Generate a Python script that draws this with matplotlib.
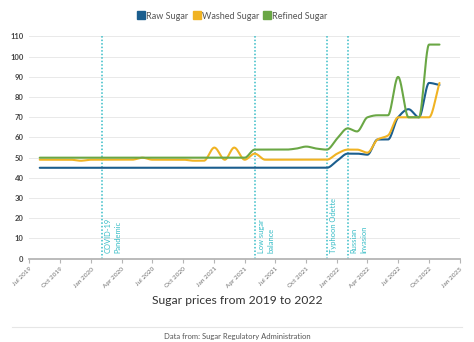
import numpy as np
import pandas as pd
import matplotlib
matplotlib.use("Agg")
import matplotlib.pyplot as plt
import matplotlib.dates as mdates
from matplotlib.lines import Line2D

plt.rcParams['font.family'] = ['Lato', 'DejaVu Sans']

# monthly prices, Aug 2019 .. Nov 2022
months = pd.date_range('2019-08-01', '2022-11-01', freq='MS')

raw_sugar = [45, 45, 45, 45, 45, 45, 45, 45, 45, 45,
             45, 45, 45, 45, 45, 45, 45, 45, 45, 45,
             45, 45, 45, 45, 45, 45, 45, 45, 45, 48.5,
             52, 52, 51.5, 59, 59, 70, 74, 70, 87, 86]
washed_sugar = [49, 49, 49, 49, 48.5, 49, 49, 49, 49, 49,
                50, 49, 49, 49, 49, 48.5, 48.5, 55, 49, 55,
                49, 52, 49, 49, 49, 49, 49, 49, 49, 52,
                54, 54, 52.5, 59, 61, 70, 70, 70, 70, 87]
refined_sugar = [50, 50, 50, 50, 50, 50, 50, 50, 50, 50,
                 50, 50, 50, 50, 50, 50, 50, 50, 50, 50,
                 50, 54, 54, 54, 54, 54.5, 55.5, 54.5, 54, 59.5,
                 64.5, 63, 70, 71, 71, 90, 70, 70, 106, 106]

series_names = ['Raw Sugar', 'Washed Sugar', 'Refined Sugar']
series_colors = ['#1b5e8e', '#f0b323', '#6aa745']

events = ['2020-02-01', '2021-05-01', '2021-12-01', '2022-02-01']
event_labels = ['COVID-19\nPandemic', 'Low sugar\nbalance', 'Typhoon Odette', 'Russian\nInvasion']

tick_dates = pd.date_range('2019-07-01', '2023-01-01', freq='3MS')


def monotone_curve(x, y, n=24):
    """Monotone cubic (Fritsch-Carlson) curve through the points."""
    x = np.asarray(x, float)
    y = np.asarray(y, float)
    h = np.diff(x)
    d = np.diff(y) / h
    m = np.zeros_like(y)
    m[0], m[-1] = d[0], d[-1]
    for k in range(1, len(y) - 1):
        if d[k - 1] * d[k] <= 0:
            m[k] = 0
        else:
            w1 = 2 * h[k] + h[k - 1]
            w2 = h[k] + 2 * h[k - 1]
            m[k] = (w1 + w2) / (w1 / d[k - 1] + w2 / d[k])
    xs, ys = [], []
    for k in range(len(h)):
        t = np.linspace(0, 1, n, endpoint=False)
        h00 = 2 * t**3 - 3 * t**2 + 1
        h10 = t**3 - 2 * t**2 + t
        h01 = -2 * t**3 + 3 * t**2
        h11 = t**3 - t**2
        xs.append(x[k] + t * h[k])
        ys.append(h00 * y[k] + h10 * h[k] * m[k] + h01 * y[k + 1] + h11 * h[k] * m[k + 1])
    xs.append([x[-1]])
    ys.append([y[-1]])
    return np.concatenate(xs), np.concatenate(ys)


fig = plt.figure(figsize=(4.74, 3.42), dpi=100)
ax = fig.add_axes([0.0618, 0.2436, 0.9087, 0.6497])

xnum = mdates.date2num(months)
for name, vals, col in zip(series_names, [raw_sugar, washed_sugar, refined_sugar], series_colors):
    cx, cy = monotone_curve(xnum, vals)
    ax.plot(cx, cy, color=col, lw=1.5, solid_capstyle='round', zorder=3)

teal = '#35bcc6'
for d, lab in zip(events, event_labels):
    xd = mdates.date2num(pd.Timestamp(d))
    ax.axvline(xd, color=teal, lw=1.1, ls=(0, (1, 1.3)), zorder=2)
    ax.annotate(lab, xy=(xd, 0), xytext=(2.3, 4), textcoords='offset points',
                rotation=90, ha='left', va='bottom', multialignment='left',
                fontsize=5.4, color=teal, linespacing=1.35)

ax.set_ylim(0, 110)
ax.set_yticks(range(0, 111, 10))
ax.set_xlim(mdates.date2num(pd.Timestamp('2019-07-01')), mdates.date2num(pd.Timestamp('2023-01-01')))
ax.set_xticks(mdates.date2num(tick_dates))
ax.set_xticklabels([t.strftime('%b %Y') for t in tick_dates], rotation=45,
                   ha='right', rotation_mode='anchor', fontsize=4.6, color='#707070')
ax.grid(axis='y', color='#e9e9e9', lw=0.7)
ax.set_axisbelow(True)
for s in ['left', 'right', 'top']:
    ax.spines[s].set_visible(False)
ax.spines['bottom'].set_color('#b5b5b5')
ax.spines['bottom'].set_linewidth(1.3)
ax.tick_params(axis='x', length=3, color='#b5b5b5', pad=2.5)
ax.tick_params(axis='y', length=0, pad=4, labelsize=5.5, labelcolor='#444444')
for lbl in ax.get_yticklabels():
    lbl.set_fontweight('bold')

handles = [Line2D([], [], marker='s', ls='', markersize=6, color=c) for c in series_colors]
fig.legend(handles, series_names, loc='center', bbox_to_anchor=(0.49, 0.953), ncol=3,
           frameon=False, fontsize=6.5, labelcolor='#555555', handletextpad=0.1,
           columnspacing=0.5, handlelength=0.9, borderaxespad=0)

fig.text(0.5, 0.122, 'Sugar prices from 2019 to 2022', ha='center', va='center',
         fontsize=8.7, color='#333333')
fig.add_artist(Line2D([12 / 474, 462 / 474], [1 - 326.5 / 342] * 2, color='#e6e6e6', lw=0.8))
fig.text(0.5, 0.015, 'Data from: Sugar Regulatory Administration', ha='center', va='center',
         fontsize=5.5, color='#555555')

fig.savefig('out.png', dpi=100)
